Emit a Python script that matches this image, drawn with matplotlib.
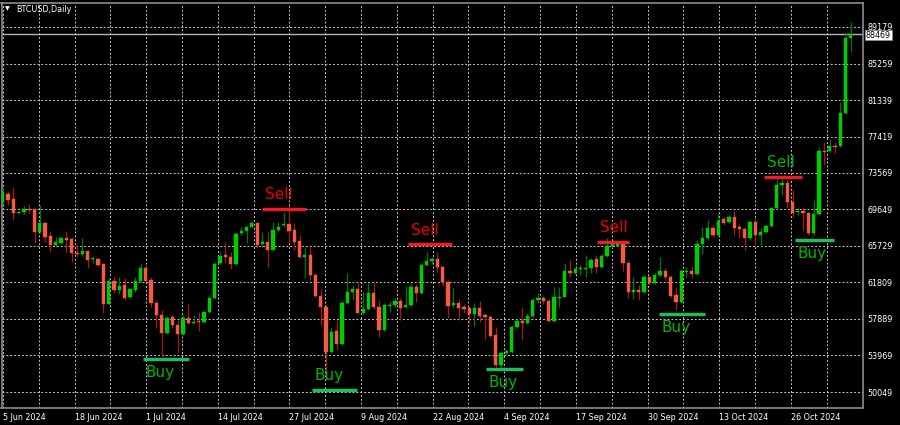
import matplotlib
matplotlib.use("Agg")
import matplotlib.pyplot as plt
import numpy as np

# BTCUSD daily candles, 5 Jun 2024 .. 12 Nov 2024
opens = [
    70419, 71276, 70740, 69239, 69347, 69668, 69668, 67203, 68167, 66774,
    65809, 66023, 66559, 66452, 64951, 64844, 65166, 64308, 64308, 63772,
    59484, 61950, 60985, 61521, 60235, 60985, 61950, 63343, 62057, 59591,
    58305, 56375, 58091, 57233, 56268, 57983, 57447, 57662, 57555, 58627,
    60127, 63879, 64737, 64523, 63772, 67095, 67310, 67739, 68167, 65916,
    66131, 65273, 67417, 67953, 68060, 67417, 66238, 64523, 64737, 62593,
    60342, 59163, 54339, 56590, 55196, 59591, 60771, 61092, 58519, 58948,
    60663, 59163, 56697, 59270, 59377, 59806, 59163, 59377, 61307, 60663,
    63665, 64094, 64308, 63451, 61843, 59377, 59591, 59163, 59055, 58412,
    59055, 58305, 58091, 56161, 52945, 54231, 54339, 57019, 57662, 57447,
    58198, 59913, 60127, 59806, 57662, 60127, 60235, 63022, 62807, 63236,
    63236, 63343, 64308, 63451, 64630, 65702, 65702, 65916, 63879, 60771,
    60985, 60771, 62379, 61735, 62593, 63022, 62379, 60449, 59699, 62915,
    63022, 62700, 65916, 66559, 67631, 66881, 68596, 68275, 68811, 67739,
    67524, 66559, 68275, 66881, 67203, 67846, 69775, 72241, 72455, 70419,
    69347, 69454, 69239, 67095, 69132, 75886, 75886, 76422, 76422, 79959,
    87999,
]
highs = [
    71919, 71598, 72027, 69454, 69990, 70204, 69775, 70097, 68275, 67310,
    66667, 66667, 67310, 66667, 65809, 66559, 65166, 64523, 64415, 63879,
    62271, 62486, 62379, 62271, 61199, 62379, 63879, 63451, 62379, 59913,
    58841, 58198, 58305, 57769, 58305, 59484, 58305, 58627, 58734, 60449,
    63987, 65166, 66131, 65059, 67203, 67739, 67846, 68382, 68167, 67203,
    67203, 68275, 68275, 69347, 69990, 68167, 66881, 65595, 65595, 62807,
    61092, 59377, 57019, 57769, 59913, 62807, 61521, 61843, 60771, 61735,
    61843, 59913, 59591, 59806, 60127, 60127, 61414, 61735, 61628, 63879,
    65059, 64523, 65059, 63558, 62057, 61199, 60020, 59484, 59270, 59591,
    59806, 58519, 58305, 57019, 54446, 54660, 57233, 57876, 59163, 58519,
    60127, 60663, 60342, 60020, 61307, 61307, 63879, 64201, 63451, 63665,
    64737, 64415, 64737, 64844, 66559, 66131, 66023, 66023, 64201, 62379,
    61521, 62593, 62486, 62807, 64523, 63343, 62593, 61307, 63236, 63451,
    63558, 66345, 67739, 68489, 67953, 69239, 68811, 69025, 69454, 68060,
    67739, 68382, 68811, 67631, 67953, 69883, 72991, 72991, 72777, 71705,
    69883, 69775, 69347, 70633, 76315, 76851, 77172, 76851, 81139, 88535,
    89715,
]
lows = [
    70204, 70097, 68489, 69132, 69132, 69239, 66023, 67095, 66131, 65059,
    65595, 65916, 65059, 63987, 64523, 64630, 63343, 63879, 63558, 58519,
    59377, 60663, 60556, 59913, 60127, 60771, 61843, 61843, 59163, 56911,
    53803, 56268, 56911, 54339, 56161, 57340, 57340, 56590, 57447, 58519,
    60020, 63772, 63879, 63236, 63665, 66881, 66023, 67631, 65487, 65595,
    63451, 65273, 67203, 67739, 66023, 65273, 64415, 62271, 62057, 60235,
    57233, 51337, 54231, 54553, 55089, 59484, 59913, 58519, 58412, 58841,
    58948, 55947, 56590, 58627, 59163, 57769, 59055, 59163, 59699, 60556,
    63558, 63772, 62915, 61414, 57983, 59055, 57769, 58519, 57340, 57126,
    57555, 55732, 55947, 52731, 52731, 54017, 54231, 56911, 55625, 57340,
    58091, 59591, 59484, 57555, 57555, 59163, 60235, 62379, 62700, 62593,
    62379, 62807, 62807, 63343, 64523, 65595, 65595, 63022, 60127, 60020,
    59913, 60663, 61628, 61628, 62379, 62057, 60235, 58841, 59591, 62379,
    62271, 62593, 64844, 66345, 66667, 66774, 67953, 68167, 66881, 66559,
    65273, 66345, 65809, 65595, 67095, 67739, 69668, 71169, 69775, 68811,
    69025, 67417, 66881, 66881, 69025, 74385, 75779, 75671, 76315, 79852,
    86499,
]
closes = [
    71491, 70633, 69239, 69347, 69668, 69561, 67203, 68167, 66667, 65809,
    66131, 66559, 66345, 64951, 64844, 65166, 64201, 64415, 63665, 59484,
    61950, 60985, 61414, 60127, 61092, 61950, 63343, 61950, 59591, 58305,
    56375, 57983, 57233, 56268, 57983, 57447, 57555, 57555, 58627, 60127,
    63772, 64630, 64523, 63772, 66988, 67310, 67739, 68167, 65809, 66131,
    65273, 67417, 67739, 68060, 67310, 66131, 64523, 64737, 62593, 60342,
    59163, 54339, 56483, 55196, 59591, 60771, 61092, 58519, 58948, 60663,
    59163, 56697, 59377, 59377, 59806, 59055, 59377, 61307, 60663, 63665,
    64094, 64308, 63451, 61843, 59270, 59591, 59055, 58948, 58412, 59055,
    58198, 58091, 56054, 52945, 54231, 54446, 57019, 57662, 57447, 58198,
    59913, 60127, 59806, 57662, 60235, 60235, 63022, 62807, 63236, 63343,
    63343, 64201, 63451, 64630, 65702, 65916, 65916, 63879, 60771, 60985,
    60771, 62379, 61735, 62593, 63022, 62379, 60342, 59699, 63022, 63022,
    62700, 65916, 66559, 67631, 66881, 68382, 68167, 68811, 67631, 67524,
    66559, 68275, 66881, 67203, 67846, 69775, 72241, 72455, 70419, 69239,
    69454, 69239, 67095, 69132, 75886, 75779, 76422, 76315, 79959, 87999,
    88469,
]

date_labels = ["5 Jun 2024", "18 Jun 2024", "1 Jul 2024", "14 Jul 2024",
               "27 Jul 2024", "9 Aug 2024", "22 Aug 2024", "4 Sep 2024",
               "17 Sep 2024", "30 Sep 2024", "13 Oct 2024", "26 Oct 2024"]
price_ticks = [50049, 53969, 57889, 61809, 65729, 69649, 73569,
               77419, 81339, 85259, 89179]
last_price = 88469

# signal marks: label, first bar, last bar, level
sig_label = ["Buy", "Sell", "Buy", "Sell", "Buy", "Sell", "Buy", "Sell", "Buy"]
sig_start = [26.5, 48.9, 58.3, 76.5, 91.2, 112.1, 123.8, 143.7, 149.5]
sig_end = [35.2, 57.2, 66.8, 84.8, 98.2, 118.2, 132.5, 150.7, 156.9]
sig_price = [53556, 69669, 50265, 65884, 52517, 66131, 58413, 73099, 66313]
sig_text = ["green", "red", "green", "red", "green", "red", "green", "green", "green"]
sig_side = ["below", "above", "above", "above", "below", "above", "below", "above", "below"]

BULL, BULL_WICK = "#00cc00", "#007800"
BEAR, BEAR_WICK = "#f65a46", "#a01c1c"
LINE_COL = {"Buy": "#18c060", "Sell": "#f01c24"}
TEXT_COL = {"green": "#00b400", "red": "#e80000"}
GRID = "#c8c8c8"

fig = plt.figure(figsize=(9, 4.25), dpi=100, facecolor="black")
ax = fig.add_axes([1.5 / 900, 17 / 425, 861.5 / 900, 405 / 425])
ax.set_facecolor("black")

o, h, l, c = (np.array(v, dtype=float) for v in (opens, highs, lows, closes))
x = np.arange(len(o))
up = c >= o
ax.vlines(x, l, h, colors=np.where(up, BULL_WICK, BEAR_WICK), lw=0.9, zorder=3)
body = np.maximum(np.abs(c - o), 90)
cols = np.where(up, BULL, BEAR)
ax.bar(x, body, bottom=np.minimum(o, c), width=0.62, color=cols,
       edgecolor=cols, lw=0.3, zorder=4)

# bid line
ax.axhline(last_price, color="#b4b4b4", lw=1.0, zorder=2)

for lab, x0, x1, p, tc, side in zip(sig_label, sig_start, sig_end, sig_price, sig_text, sig_side):
    ax.hlines(p, x0, x1, colors=LINE_COL[lab], lw=2.4, zorder=5)
    dy = 7 if side == "above" else -13
    ax.annotate(lab, (x0, p), xytext=(2, dy), textcoords="offset points",
                color=TEXT_COL[tc], fontsize=11, ha="left", va="baseline", zorder=6)

ax.set_xlim(-0.23, 162.3)
ax.set_ylim(48335, 91751)

grid_x = 0.057 + 6.755 * np.arange(24)
ax.set_xticks(grid_x[::2])
ax.set_xticklabels(date_labels, ha="left")
ax.set_xticks(grid_x[1::2], minor=True)
ax.set_yticks(price_ticks)
ax.set_yticklabels([str(v) for v in price_ticks])
ax.yaxis.tick_right()
ax.tick_params(axis="x", which="both", length=0, pad=3.5, labelsize=5.8, labelcolor="white")
ax.tick_params(axis="y", length=0, pad=3.5, labelsize=5.8, labelcolor="white")
ax.grid(True, which="both", axis="x", color=GRID, lw=0.7, linestyle=(0, (2, 2)))
ax.grid(True, axis="y", color=GRID, lw=0.7, linestyle=(0, (2, 2)))
ax.set_axisbelow(True)
for s in ax.spines.values():
    s.set_color("#8c8c8c")
    s.set_linewidth(1.2)

ax.annotate(str(last_price), xy=(1, last_price), xycoords=("axes fraction", "data"),
            xytext=(2, -1), textcoords="offset points", ha="left", va="center",
            fontsize=5.8, color="black", annotation_clip=False, zorder=10,
            bbox=dict(boxstyle="square,pad=0.1", fc="white", ec="#909090", lw=0.5))

fig.text(5 / 900, 1 - 9 / 425, "\u25bc", fontsize=4.5, color="white", va="center")
fig.text(16 / 900, 1 - 9 / 425, "BTCUSD,Daily", fontsize=5.8, color="white", va="center")

fig.savefig("out.png", dpi=100, facecolor="black")
